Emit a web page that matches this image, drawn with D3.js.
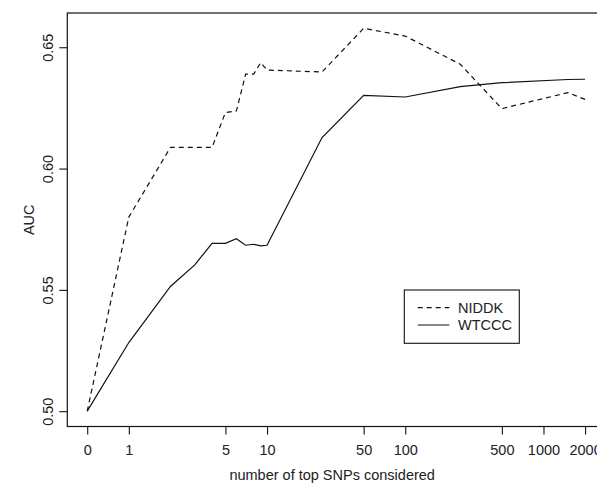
<!DOCTYPE html>
<html>
<head>
<meta charset="utf-8">
<script src="https://cdn.jsdelivr.net/npm/d3@7"></script>
<style>
  body { margin: 0; background: #fff; }
  svg { display: block; font-family: 'Liberation Sans', Arial, Helvetica, sans-serif; }
  text { fill: #222; }
</style>
</head>
<body>
<svg id="chart" width="597" height="484"></svg>
<script>
// number of top SNPs (0 is drawn at 0.5 on the log axis)
const snps = [0, 1, 2, 3, 4, 5, 6, 7, 8, 9, 10, 25, 50, 100, 250, 500, 1500, 2000]
const niddk = [0.500, 0.580, 0.6087, 0.6087, 0.6087, 0.6231, 0.6237, 0.6389, 0.6389, 0.6437, 0.6406, 0.6398, 0.6578, 0.6546, 0.6430, 0.6247, 0.6313, 0.6285]
const wtccc = [0.500, 0.5283, 0.5514, 0.5603, 0.5692, 0.5692, 0.5711, 0.5684, 0.5688, 0.5681, 0.5684, 0.6128, 0.6302, 0.6295, 0.6338, 0.6354, 0.6367, 0.6368]
const xTicks = [0, 1, 5, 10, 50, 100, 500, 1000, 2000]
const yTicks = [0.50, 0.55, 0.60, 0.65]
const seriesNames = ['NIDDK', 'WTCCC']

const svg = d3.select('#chart')
const plotL = 67.3, plotR = 605, plotT = 13, plotB = 426.5
const fs = 14.5

const zeroAt = 0.5
const sx = v => (v === 0 ? zeroAt : v)

// R style 4% padding around data range
const lx0 = Math.log10(zeroAt), lx1 = Math.log10(2000)
const padX = (lx1 - lx0) * 0.04
const x = d3.scaleLog()
  .domain([Math.pow(10, lx0 - padX), Math.pow(10, lx1 + padX)])
  .range([plotL, plotR])

const yMin = d3.min(niddk.concat(wtccc)), yMax = d3.max(niddk.concat(wtccc))
const padY = (yMax - yMin) * 0.04
const y = d3.scaleLinear()
  .domain([yMin - padY, yMax + padY])
  .range([plotB, plotT])

// box
svg.append('rect')
  .attr('x', plotL).attr('y', plotT)
  .attr('width', plotR - plotL).attr('height', plotB - plotT)
  .attr('fill', 'none').attr('stroke', '#111').attr('stroke-width', 1.2)

// x axis
const xAxis = d3.axisBottom(x)
  .tickValues(xTicks.map(sx))
  .tickFormat((d, i) => xTicks[i])
  .tickSize(8).tickPadding(10)
const gx = svg.append('g').attr('transform', `translate(0,${plotB})`).call(xAxis)
gx.select('.domain').remove()
gx.selectAll('line').attr('stroke', '#111').attr('stroke-width', 1.1)
gx.selectAll('text').attr('font-size', fs).attr('fill', '#222')

// y axis
const yAxis = d3.axisLeft(y)
  .tickValues(yTicks)
  .tickFormat(d3.format('.2f'))
  .tickSize(8).tickPadding(0)
const gy = svg.append('g').attr('transform', `translate(${plotL},0)`).call(yAxis)
gy.select('.domain').remove()
gy.selectAll('line').attr('stroke', '#111').attr('stroke-width', 1.1)
gy.selectAll('text')
  .attr('font-size', fs).attr('fill', '#222')
  .attr('x', 0).attr('dy', 0)
  .attr('text-anchor', 'middle')
  .attr('transform', 'translate(-14,0) rotate(-90)')

// axis titles
svg.append('text')
  .attr('x', (plotL + 605) / 2 - 4).attr('y', 480)
  .attr('text-anchor', 'middle').attr('font-size', fs)
  .text('number of top SNPs considered')

svg.append('text')
  .attr('transform', `translate(34,${(plotT + plotB) / 2}) rotate(-90)`)
  .attr('text-anchor', 'middle').attr('font-size', fs)
  .text('AUC')

// lines
const line = d3.line()
  .x((d, i) => x(sx(snps[i])))
  .y(d => y(d))

svg.append('path')
  .datum(niddk)
  .attr('d', line)
  .attr('fill', 'none').attr('stroke', '#111').attr('stroke-width', 1.2)
  .attr('stroke-dasharray', '5,4')

svg.append('path')
  .datum(wtccc)
  .attr('d', line)
  .attr('fill', 'none').attr('stroke', '#111').attr('stroke-width', 1.2)

// legend
const lg = svg.append('g')
lg.append('rect')
  .attr('x', 404.3).attr('y', 290)
  .attr('width', 115).attr('height', 53.3)
  .attr('fill', '#fff').attr('stroke', '#111').attr('stroke-width', 1.1)

seriesNames.forEach((name, i) => {
  const ly = 307.7 + i * 17.3
  lg.append('line')
    .attr('x1', 417.7).attr('x2', 449.3)
    .attr('y1', ly).attr('y2', ly)
    .attr('stroke', '#111').attr('stroke-width', 1.2)
    .attr('stroke-dasharray', i === 0 ? '5,4' : null)
  lg.append('text')
    .attr('x', 458).attr('y', ly + 5.2)
    .attr('font-size', fs)
    .text(name)
})
</script>
</body>
</html>
